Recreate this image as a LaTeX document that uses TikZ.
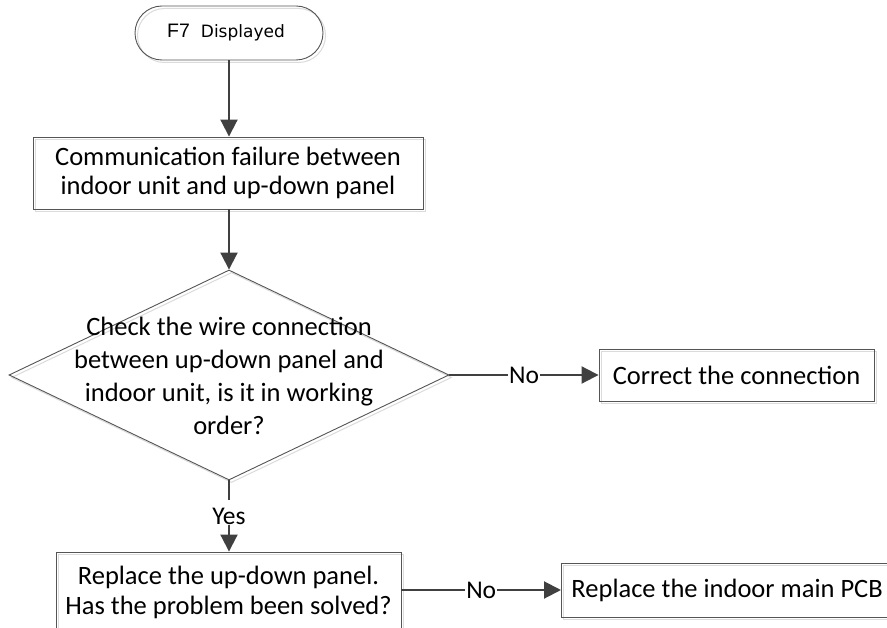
\documentclass[tikz,border=0pt]{standalone}
\usepackage{fontspec}
\setmainfont{Carlito}
\newfontfamily\arialf{Liberation Sans}
\newfontfamily\dejaf{DejaVu Sans}
\usetikzlibrary{shapes.geometric,shapes.misc,arrows.meta,shadows}
\definecolor{ln}{HTML}{404040}
\definecolor{bd}{HTML}{555555}
\tikzset{
  shad/.style={general shadow={draw=gray!28, fill=none, line width=1pt, shadow xshift=2.5pt, shadow yshift=-2.5pt}},
  box/.style={draw=bd, line width=0.9pt, shad, align=center, inner sep=0pt},
  txt/.style={font=\fontsize{26.5}{29}\selectfont},
  term/.style={rounded rectangle, draw=bd, line width=0.9pt, shad, minimum width=188pt, minimum height=54pt, inner sep=0pt},
  decision/.style={diamond, draw=bd, line width=0.9pt, shad, minimum width=440pt, minimum height=210pt, inner sep=0pt},
  conn/.style={draw=ln, line width=2pt, -{Triangle[length=17pt,width=17pt]}},
  plain/.style={draw=ln, line width=2pt},
  lbl/.style={fill=white, inner sep=1pt, font=\fontsize{25.5}{28}\selectfont}
}
\begin{document}
\begin{tikzpicture}[x=1pt,y=-1pt]
\useasboundingbox (0,0) rectangle (887,628);
\fill[white] (0,0) rectangle (887,628);

\node[term] (start) at (229,33) {};
\node (starttxt) at (226,33) {{\arialf\fontsize{19.5}{22}\selectfont F7}\hspace{11pt}{\dejaf\fontsize{17}{20}\selectfont Displayed}};

\node[box, txt, minimum width=390pt, minimum height=72pt] (fail) at (228,173)
  {Communication failure between\\indoor unit and up-down panel};

\node[decision] (chk) at (229,375) {};
\node[txt, align=center, font=\fontsize{26.5}{33}\selectfont] (chktxt) at (229,376)
  {Check the wire connection\\between up-down panel and\\indoor unit, is it in working\\order?};

\node[box, txt, minimum width=275pt, minimum height=52pt] (fix) at (736.5,375) {Correct the connection};

\node[box, txt, minimum width=345pt, minimum height=80pt, font=\fontsize{26.5}{30}\selectfont] (repl) at (228.5,592)
  {Replace the up-down panel.\\Has the problem been solved?};

\node[box, txt, anchor=west, minimum height=54pt, inner xsep=10pt] (pcb) at (561,590) {Replace the indoor main PCB};

\draw[conn] (start.south) -- (start.south |- fail.north);
\draw[conn] (fail.south -| chk.north) -- (chk.north);
\draw[conn] (chk.east) -- node[lbl] {No} (fix.west);
\draw[plain] (chk.south) -- (229,500);
\node[lbl] (yes) at (229,516) {Yes};
\draw[conn] (yes.south) -- (repl.north -| yes.south);
\draw[conn] (repl.east |- pcb.west) -- node[lbl] {No} (pcb.west);
\end{tikzpicture}
\end{document}
